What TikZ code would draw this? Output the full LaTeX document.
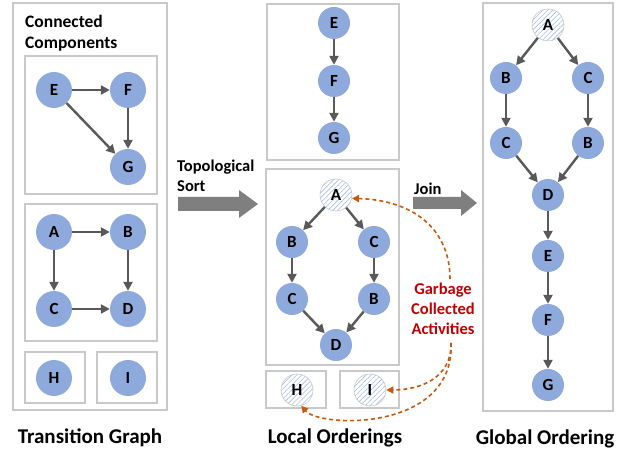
\documentclass[tikz,border=0pt]{standalone}
\usepackage{fontspec}
\setmainfont{Carlito}
\usetikzlibrary{arrows.meta,patterns.meta}

\definecolor{nodeblue}{HTML}{8EA9DB}
\definecolor{edgegray}{HTML}{595959}
\definecolor{boxgray}{HTML}{C9C9C9}
\definecolor{blockgray}{HTML}{7F7F7F}
\definecolor{gcorange}{HTML}{C55A11}
\definecolor{gcred}{HTML}{C00000}
\definecolor{hatchblue}{HTML}{A9BDE3}

\tikzset{
  panel/.style={draw=boxgray, line width=2pt},
  act/.style={circle, fill=nodeblue, minimum size=32pt, inner sep=0pt,
    font=\bfseries\fontsize{17}{17}\selectfont},
  bigact/.style={act, minimum size=36pt},
  gcact/.style={circle, draw=boxgray, line width=0.6pt, fill=white,
    postaction={pattern={Lines[angle=45,distance=3.5pt,line width=0.6pt]}, pattern color=hatchblue},
    minimum size=32pt, inner sep=0pt, font=\bfseries\fontsize{17}{17}\selectfont},
  edge/.style={draw=edgegray, line width=2.4pt, -{Triangle[length=9pt,width=9pt]}},
  gcedge/.style={draw=gcorange, line width=1.6pt, dash pattern=on 4pt off 3pt,
    -{Triangle[length=7pt,width=7pt]}},
  caption/.style={font=\bfseries\fontsize{21}{21}\selectfont},
  label/.style={font=\bfseries\fontsize{16.5}{20}\selectfont, align=left},
  blockarrow/.style={fill=blockgray, draw=none},
}

\begin{document}
\begin{tikzpicture}[x=1pt, y=-1pt]
\useasboundingbox (0,0) rectangle (635,454);

% ---------- Transition graph ----------
\draw[panel] (13,3) rectangle (167,410);
\node[label, font=\bfseries\fontsize{17.5}{21}\selectfont, anchor=north west, inner sep=0pt] (cc) at (25,15) {Connected\\Components};
\draw[panel] (25,56) rectangle (157,194);
\draw[panel] (25,204) rectangle (157,341);
\draw[panel] (25,352) rectangle (85,403);
\draw[panel] (97,352) rectangle (157,403);

\node[bigact] (tE) at (54,90) {E};
\node[bigact] (tF) at (128,90) {F};
\node[bigact] (tG) at (128,167) {G};
\node[bigact] (tA) at (54,232) {A};
\node[bigact] (tB) at (128,232) {B};
\node[bigact] (tC) at (54,309) {C};
\node[bigact] (tD) at (128,309) {D};
\node[bigact] (tH) at (54,378) {H};
\node[bigact] (tI) at (128,378) {I};

\draw[edge] (tE) -- (tF);
\draw[edge] (tF) -- (tG);
\draw[edge] (tE) -- (tG);
\draw[edge] (tA) -- (tB);
\draw[edge] (tA) -- (tC);
\draw[edge] (tB) -- (tD);
\draw[edge] (tC) -- (tD);

\node[caption] (capT) at (90,438) {Transition Graph};

% ---------- Topological sort arrow ----------
\fill[blockarrow] (178,197) -- (239,197) -- (239,190) -- (258,204) -- (239,218) -- (239,211) -- (178,211) -- cycle;
\node[label, anchor=north west, inner sep=0pt] (topo) at (177,160) {Topological\\Sort};

% ---------- Local orderings ----------
\draw[panel] (267,4) rectangle (399,160);
\node[act] (lE) at (334,23) {E};
\node[act] (lF) at (334,81) {F};
\node[act] (lG) at (334,138) {G};
\draw[edge] (lE) -- (lF);
\draw[edge] (lF) -- (lG);

\draw[panel] (266,169) rectangle (399,365);
\node[gcact] (lA) at (336,195) {A};
\node[act] (lB1) at (292,242) {B};
\node[act] (lC1) at (374,242) {C};
\node[act] (lC2) at (292,299) {C};
\node[act] (lB2) at (374,299) {B};
\node[act] (lD) at (336,345) {D};
\draw[edge] (lA) -- (lB1);
\draw[edge] (lA) -- (lC1);
\draw[edge] (lB1) -- (lC2);
\draw[edge] (lC1) -- (lB2);
\draw[edge] (lC2) -- (lD);
\draw[edge] (lB2) -- (lD);

\draw[panel] (266,371) rectangle (326,408);
\draw[panel] (340,371) rectangle (399,408);
\node[gcact] (lH) at (297,390) {H};
\node[gcact] (lI) at (370,390) {I};

\node[caption] (capL) at (335,438) {Local Orderings};

% ---------- Garbage collected activities ----------
\node[label, align=center, text=gcred, inner sep=0pt] (gc) at (443,309) {Garbage\\Collected\\Activities};
\coordinate (gctop) at (450,279);
\coordinate (gcbot) at (451,343);
\draw[gcedge] (gctop) .. controls (450,228) and (412,200) .. (lA.-12);
\draw[gcedge] (gcbot) .. controls (452,378) and (420,390) .. (lI.east);
\draw[gcedge] (gcbot) .. controls (455,432) and (320,428) .. (lH.-75);

% ---------- Join arrow ----------
\fill[blockarrow] (413,197) -- (461,197) -- (461,190) -- (477,203) -- (461,216) -- (461,209) -- (413,209) -- cycle;
\node[label, anchor=west, inner sep=0pt] (join) at (414,189) {Join};

% ---------- Global ordering ----------
\draw[panel] (483,3) rectangle (613,411);
\node[gcact] (gA) at (548,25) {A};
\node[act] (gB1) at (506,78) {B};
\node[act] (gC1) at (588,78) {C};
\node[act] (gC2) at (506,143) {C};
\node[act] (gB2) at (588,143) {B};
\node[act] (gD) at (548,195) {D};
\node[act] (gE) at (548,256) {E};
\node[act] (gF) at (548,320) {F};
\node[act] (gG) at (548,385) {G};
\draw[edge] (gA) -- (gB1);
\draw[edge] (gA) -- (gC1);
\draw[edge] (gB1) -- (gC2);
\draw[edge] (gC1) -- (gB2);
\draw[edge] (gC2) -- (gD);
\draw[edge] (gB2) -- (gD);
\draw[edge] (gD) -- (gE);
\draw[edge] (gE) -- (gF);
\draw[edge] (gF) -- (gG);

\node[caption] (capG) at (545,439) {Global Ordering};
\end{tikzpicture}
\end{document}
